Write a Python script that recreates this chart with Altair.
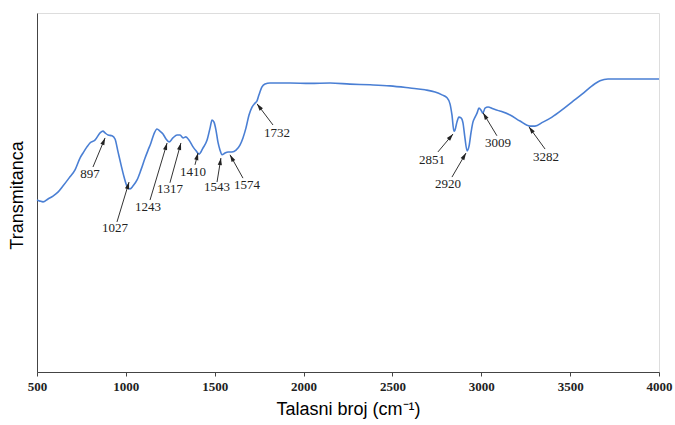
import math
import altair as alt
import pandas as pd

# ---- spectrum ----
wavenumber = [500, 517, 534, 562, 590, 618, 646, 680, 714, 742, 759, 781, 798, 826, 855, 871,
              883, 900, 922, 939, 956, 973, 990, 1006, 1023, 1040, 1063, 1085, 1108, 1125, 1141,
              1158, 1175, 1192, 1209, 1226, 1243, 1265, 1288, 1305, 1322, 1338, 1355, 1378, 1395,
              1412, 1434, 1457, 1474, 1485, 1496, 1507, 1518, 1530, 1541, 1558, 1575, 1597, 1620,
              1642, 1659, 1676, 1693, 1710, 1727, 1738, 1749, 1766, 1783, 1811, 1924, 2036, 2149,
              2261, 2374, 2486, 2599, 2683, 2740, 2779, 2807, 2824, 2835, 2846, 2852, 2863, 2874,
              2886, 2897, 2908, 2920, 2931, 2942, 2953, 2965, 2976, 2987, 2998, 3009, 3021, 3038,
              3066, 3105, 3162, 3218, 3274, 3302, 3347, 3398, 3454, 3510, 3567, 3623, 3668, 3713,
              3781, 3893, 4000]
transmittance = [47.9, 47.6, 47.4, 48.2, 49.0, 50.1, 51.8, 54.0, 56.3, 59.6, 61.0, 62.7, 63.8, 64.6,
                 66.6, 67.1, 66.6, 66.0, 65.8, 64.9, 61.3, 57.7, 54.3, 51.8, 51.0, 51.8, 53.5, 56.3,
                 59.6, 61.8, 63.8, 66.3, 67.7, 67.1, 66.3, 64.9, 64.1, 65.2, 66.0, 66.0, 65.2, 65.5,
                 64.6, 62.7, 61.6, 60.7, 62.4, 64.6, 68.0, 70.2, 69.6, 67.4, 64.1, 61.8, 60.5, 61.0,
                 61.3, 61.3, 61.8, 63.2, 65.2, 68.0, 71.6, 73.8, 74.9, 75.5, 77.2, 79.4, 80.2, 80.5,
                 80.5, 80.4, 80.5, 80.2, 80.0, 79.7, 79.1, 78.6, 78.0, 77.2, 76.4, 74.7, 71.6, 67.1,
                 67.4, 69.6, 71.0, 70.8, 69.4, 65.2, 61.6, 62.9, 66.6, 69.6, 71.0, 72.1, 73.5, 73.0,
                 72.1, 73.5, 73.8, 73.3, 72.7, 71.6, 69.9, 68.5, 68.5, 69.6, 71.0, 73.0, 75.2, 77.4,
                 79.7, 81.1, 81.6, 81.6, 81.6, 81.6]

# ---- peak annotations ----
peak_labels = ["897", "1027", "1243", "1317", "1410", "1543", "1574", "1732", "2851", "2920", "3009", "3282"]
label_wn = [798, 939, 1125, 1248, 1378, 1513, 1682, 1850, 2723, 2813, 3094, 3364]
label_t = [55.2, 40.1, 46.0, 51.0, 55.7, 51.5, 52.1, 66.6, 59.1, 52.4, 63.8, 59.9]
tail_wn = [815, 950, 1136, 1248, 1389, 1513, 1659, 1828, 2756, 2835, 3088, 3359]
tail_t = [57.1, 41.8, 47.9, 52.7, 57.7, 52.9, 54.0, 68.8, 61.3, 54.3, 65.8, 62.1]
head_wn = [883, 1018, 1232, 1310, 1406, 1535, 1586, 1738, 2841, 2914, 3010, 3268]
head_t = [65.2, 52.9, 63.8, 63.8, 61.0, 59.6, 60.5, 74.7, 66.3, 61.0, 72.2, 68.3]

W, H = 622, 359
XMIN, XMAX = 500, 4000
YMIN, YMAX = 0, 100

spec = pd.DataFrame({"wn": wavenumber, "t": transmittance})

ann = pd.DataFrame({"label": peak_labels, "lx": label_wn, "ly": label_t,
                    "tx": tail_wn, "ty": tail_t, "hx": head_wn, "hy": head_t})
angles = []
for tx, ty, hx, hy in zip(tail_wn, tail_t, head_wn, head_t):
    dx = (hx - tx) * W / (XMAX - XMIN)
    dy = -(hy - ty) * H / (YMAX - YMIN)
    ang = math.degrees(math.atan2(dx, -dy)) % 360
    angles.append(ang)
ann["angle"] = angles

xscale = alt.Scale(domain=[XMIN, XMAX], nice=False, zero=False)
yscale = alt.Scale(domain=[YMIN, YMAX], nice=False, zero=False)

xaxis = alt.Axis(values=list(range(500, 4001, 500)), format="d", title="Talasni broj (cm⁻¹)",
                 labelFont="Liberation Serif", labelFontSize=13, labelFontWeight="bold",
                 labelColor="#222", tickColor="#444", tickSize=4, domainColor="#444",
                 titleFont="Liberation Sans", titleFontSize=18, titleFontWeight="normal",
                 titleColor="#000", titlePadding=7, labelPadding=4, grid=False,
                 labelOverlap=False, labelFlush=False)
yaxis = alt.Axis(title="Transmitanca", labels=False, ticks=False, grid=False,
                 domainColor="#444", titleFont="Liberation Sans", titleFontSize=18,
                 titleFontWeight="normal", titleColor="#000", titleX=-11, titleY=182,
                 titleAngle=270, titleBaseline="bottom")

line = alt.Chart(spec).mark_line(color="#4a7fd4", strokeWidth=1.6, interpolate="monotone").encode(
    x=alt.X("wn:Q", scale=xscale, axis=xaxis),
    y=alt.Y("t:Q", scale=yscale, axis=yaxis),
)

rules = alt.Chart(ann).mark_rule(color="#333", strokeWidth=1).encode(
    x=alt.X("tx:Q", scale=xscale), y=alt.Y("ty:Q", scale=yscale),
    x2="hx:Q", y2="hy:Q",
)

heads = alt.Chart(ann).mark_point(
    shape="M0,0L-0.6,2L0.6,2Z", filled=True, color="#222", opacity=1, size=50
).encode(
    x=alt.X("hx:Q", scale=xscale), y=alt.Y("hy:Q", scale=yscale),
    angle=alt.Angle("angle:Q", scale=None),
)

labels = alt.Chart(ann).mark_text(font="Liberation Serif", fontSize=13, color="#222").encode(
    x=alt.X("lx:Q", scale=xscale), y=alt.Y("ly:Q", scale=yscale), text="label:N",
)

chart = alt.layer(line, rules, heads, labels).properties(
    width=W, height=H,
    autosize=alt.AutoSizeParams(type="none"),
    padding={"left": 37, "top": 13, "right": 16, "bottom": 53},
).configure_view(stroke="#444", strokeWidth=1.2).configure(background="white")

chart.save("out.html", embed_options={"renderer": "svg", "actions": False})
